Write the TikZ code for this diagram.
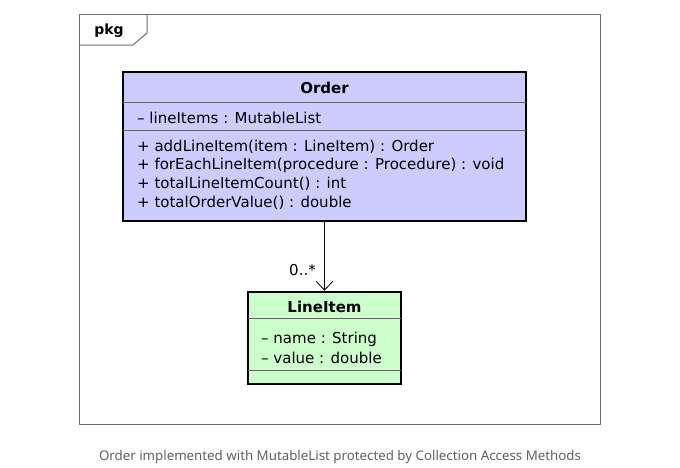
\documentclass[tikz,border=0pt]{standalone}
\usepackage{fontspec}
\setmainfont{DejaVu Sans}
\newfontfamily\captionfont{Noto Sans}
\usetikzlibrary{positioning,calc,arrows.meta}
\definecolor{OrderBlue}{RGB}{204,204,255}
\definecolor{ItemGreen}{RGB}{204,255,204}
\definecolor{FrameGray}{RGB}{110,110,110}
\definecolor{SepGray}{RGB}{100,100,100}
\definecolor{CaptionGray}{RGB}{95,95,95}
\tikzset{
  classbox/.style={draw=black,line width=2.6pt,inner sep=0pt},
  sepline/.style={draw=SepGray,line width=1.1pt},
  pkgline/.style={draw=FrameGray,line width=1pt},
  classname/.style={font=\fontsize{15}{17}\selectfont\bfseries,inner sep=0pt},
  member/.style={anchor=west,font=\fontsize{15}{17}\selectfont,inner sep=0pt},
  assoc/.style={draw=black,line width=0.8pt,-{Straight Barb[length=9pt,width=17pt,line width=0.8pt]}},
}
\begin{document}
\begin{tikzpicture}[x=1pt,y=-1pt]
  \useasboundingbox (0,0) rectangle (680,467);
  % package frame
  \draw[pkgline] (79,14) rectangle (600,424);
  \draw[pkgline] (79,45) -- (133,45) -- (147,33) -- (147,14);
  \node[classname,font=\fontsize{14}{16}\selectfont\bfseries] (pkg) at (109,31) {pkg};
  % Order class
  \node[classbox,fill=OrderBlue,minimum width=403pt,minimum height=149pt] (order) at (324.5,146.5) {};
  \draw[sepline] ($(order.north west)+(1,32)$) -- ($(order.north east)+(-1,32)$);
  \draw[sepline] ($(order.north west)+(1,60)$) -- ($(order.north east)+(-1,60)$);
  \node[classname] (ordername) at (324.5,88) {Order};
  \node[member] (items) at (137,118) {– lineItems : MutableList};
  \foreach \m [count=\i] in {{+ addLineItem(item : LineItem) : Order},
      {+ forEachLineItem(procedure : Procedure) : void},
      {+ totalLineItemCount() : int},
      {+ totalOrderValue() : double}}
    \node[member] (op\i) at (137,{146.5+18.8*(\i-1)}) {\m};
  % LineItem class
  \node[classbox,fill=ItemGreen,minimum width=153pt,minimum height=92pt] (item) at (324.5,338) {};
  \draw[sepline] ($(item.north west)+(1,28)$) -- ($(item.north east)+(-1,28)$);
  \draw[sepline] ($(item.north west)+(1,80)$) -- ($(item.north east)+(-1,80)$);
  \node[classname] (itemname) at (324.5,307) {LineItem};
  \node[member] (name) at (261,339) {– name : String};
  \node[member] (value) at (261,357.5) {– value : double};
  % association
  \draw[assoc] (order.south) -- (item.north);
  \node[member,anchor=east] (mult) at (316,270) {0..*};
  % caption
  \node[font=\captionfont\fontsize{13.3}{15}\selectfont,text=CaptionGray] (caption) at (340,457) {Order implemented with MutableList protected by Collection Access Methods};
\end{tikzpicture}
\end{document}
